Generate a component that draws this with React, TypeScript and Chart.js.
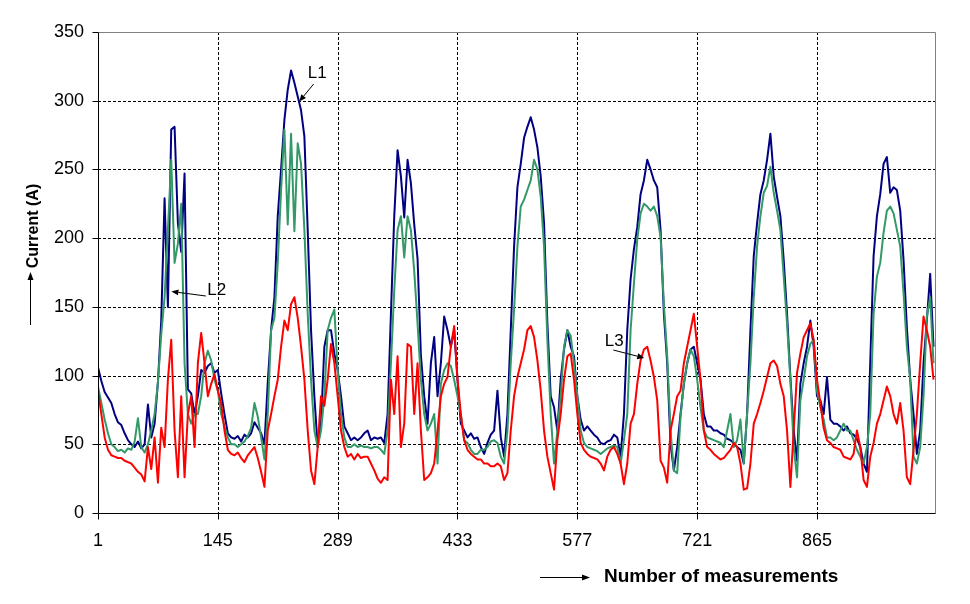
import React, { useEffect, useRef } from 'react';
import { Chart, registerables } from 'chart.js';

Chart.register(...registerables);

// Measurement numbers (every 4th measurement of the 1008-sample record)
const measurements: number[] = Array.from({ length: 252 }, (_, i) => 1 + 4 * i);

const xTickValues = [1, 145, 289, 433, 577, 721, 865];
const yTickValues = [0, 50, 100, 150, 200, 250, 300, 350];

// L1 current (A)
const seriesL1 = [
  106, 96, 88, 84, 80, 72, 66, 64, 58, 53,
  50, 48, 52, 47, 50, 79, 55, 65, 95, 140,
  229, 150, 279, 281, 211, 190, 247, 90, 87, 72,
  85, 104, 102, 107, 109, 102, 104, 87, 72, 58,
  55, 54, 56, 52, 57, 55, 58, 66, 62, 58,
  50, 95, 133, 157, 216, 250, 286, 308, 322, 313,
  303, 293, 274, 206, 133, 85, 48, 65, 121, 133,
  133, 116, 104, 85, 63, 58, 53, 55, 53, 55,
  58, 60, 53, 55, 54, 55, 51, 72, 145, 216,
  264, 245, 215, 257, 240, 210, 185, 115, 85, 65,
  109, 128, 85, 109, 143, 133, 121, 133, 97, 65,
  60, 55, 58, 54, 55, 48, 43, 51, 57, 60,
  89, 55, 41, 72, 133, 194, 237, 254, 273, 281,
  288, 279, 266, 245, 211, 138, 85, 77, 60, 97,
  119, 133, 121, 114, 85, 68, 60, 63, 60, 57,
  55, 51, 50, 52, 53, 57, 55, 41, 72, 133,
  170, 192, 208, 232, 242, 257, 250, 242, 237, 206,
  145, 109, 50, 31, 48, 72, 94, 109, 119, 121,
  109, 97, 72, 63, 63, 60, 60, 58, 57, 54,
  53, 51, 48, 46, 36, 72, 133, 187, 211, 232,
  242, 257, 276, 245, 230, 216, 184, 145, 99, 60,
  38, 94, 109, 121, 140, 121, 85, 82, 72, 99,
  68, 65, 65, 63, 60, 63, 58, 57, 54, 48,
  36, 30, 110, 187, 216, 232, 254, 259, 233, 237,
  235, 220, 184, 135, 97, 72, 43, 60, 109, 140, 174, 121,
];

// L2 current (A)
const seriesL2 = [
  92, 80, 68, 58, 50, 48, 45, 46, 44, 47,
  46, 52, 69, 48, 44, 50, 60, 72, 95, 130,
  157, 206, 257, 182, 196, 225, 109, 72, 65, 72,
  72, 85, 109, 118, 111, 97, 89, 72, 63, 55,
  50, 50, 48, 50, 52, 56, 62, 80, 70, 55,
  39, 72, 133, 142, 182, 235, 279, 210, 276, 205,
  269, 254, 206, 145, 97, 60, 48, 60, 85, 133,
  142, 148, 104, 72, 55, 48, 48, 50, 48, 49,
  48, 48, 47, 48, 48, 46, 43, 60, 109, 162,
  206, 216, 186, 216, 206, 176, 138, 97, 72, 60,
  65, 72, 36, 94, 104, 109, 107, 97, 85, 72,
  53, 51, 46, 43, 43, 46, 46, 48, 52, 53,
  51, 41, 36, 60, 109, 148, 194, 223, 228, 235,
  242, 257, 250, 230, 194, 126, 72, 36, 60, 85,
  121, 133, 129, 109, 85, 60, 51, 48, 47, 46,
  45, 43, 45, 47, 48, 49, 48, 36, 53, 72,
  133, 167, 199, 218, 225, 223, 220, 223, 216, 201,
  152, 114, 60, 31, 29, 70, 94, 109, 119, 114,
  97, 77, 60, 55, 54, 53, 52, 51, 48, 60,
  72, 48, 53, 68, 36, 72, 109, 157, 194, 216,
  233, 238, 252, 233, 220, 206, 172, 138, 97, 48,
  26, 82, 97, 114, 123, 126, 89, 77, 68, 55,
  55, 53, 55, 60, 65, 60, 60, 53, 46, 41,
  36, 48, 72, 145, 172, 182, 204, 220, 223, 218,
  206, 194, 160, 121, 97, 41, 36, 48, 85, 143, 157, 109,
];

// L3 current (A)
const seriesL3 = [
  89, 72, 55, 46, 42, 41, 40, 40, 38, 37,
  36, 33, 30, 28, 23, 48, 32, 55, 22, 62,
  48, 97, 126, 60, 26, 85, 26, 72, 85, 48,
  109, 131, 109, 85, 94, 101, 89, 80, 60, 46,
  43, 42, 44, 40, 37, 42, 45, 48, 40, 30,
  19, 60, 72, 85, 97, 121, 140, 133, 152, 157,
  142, 121, 97, 60, 31, 21, 48, 85, 78, 97,
  123, 109, 85, 60, 48, 41, 43, 39, 43, 40,
  41, 41, 36, 31, 25, 22, 26, 24, 97, 72,
  114, 48, 65, 123, 121, 72, 109, 60, 24, 26,
  29, 36, 60, 85, 94, 99, 121, 136, 97, 72,
  53, 46, 43, 41, 39, 39, 36, 36, 34, 34,
  36, 34, 24, 29, 60, 85, 99, 109, 119, 133,
  136, 128, 111, 89, 60, 41, 29, 17, 53, 72,
  97, 114, 116, 97, 72, 51, 46, 43, 41, 40,
  39, 36, 31, 41, 46, 48, 43, 36, 21, 36,
  65, 72, 94, 111, 119, 121, 111, 99, 82, 38,
  33, 22, 60, 72, 85, 89, 109, 121, 133, 145,
  121, 97, 60, 48, 46, 43, 41, 39, 40, 43,
  46, 51, 48, 36, 17, 18, 36, 65, 72, 80,
  89, 99, 109, 111, 107, 94, 85, 60, 19, 60,
  102, 116, 128, 133, 138, 126, 97, 80, 62, 53,
  51, 48, 47, 46, 41, 40, 39, 43, 60, 48,
  24, 19, 41, 51, 65, 72, 82, 92, 85, 72,
  65, 80, 60, 26, 21, 46, 72, 109, 143, 133, 121, 97,
];

const seriesNames = ['L1', 'L2', 'L3'];
const seriesColors = ['#000080', '#339966', '#FF0000'];

// Label callouts in data coordinates: [measurement, current]
const calloutLabels = ['L1', 'L2', 'L3'];
const calloutText = [[253, 316.5], [132.4, 158.6], [610, 121.2]];
const calloutFrom = [[260.2, 312.2], [130.6, 157.9], [620.2, 118.6]];
const calloutTo = [[242.8, 299.4], [89.2, 161.2], [657.4, 112.8]];

const xTitle = 'Number of measurements';
const yTitle = 'Current (A)';

const FONT = '"Liberation Sans", Arial, sans-serif';

function arrow(ctx: CanvasRenderingContext2D, x1: number, y1: number, x2: number, y2: number, head = 7, half = 3) {
  const ang = Math.atan2(y2 - y1, x2 - x1);
  const bx = x2 - head * Math.cos(ang);
  const by = y2 - head * Math.sin(ang);
  ctx.beginPath();
  ctx.moveTo(x1, y1);
  ctx.lineTo(bx, by);
  ctx.stroke();
  ctx.beginPath();
  ctx.moveTo(x2, y2);
  ctx.lineTo(bx + half * Math.sin(ang), by - half * Math.cos(ang));
  ctx.lineTo(bx - half * Math.sin(ang), by + half * Math.cos(ang));
  ctx.closePath();
  ctx.fill();
}

const framePlugin = {
  id: 'frame',
  beforeDatasetsDraw(chart: any) {
    const { ctx, chartArea: ca, scales } = chart;
    const x = scales.x;
    const y = scales.y;
    ctx.save();
    ctx.strokeStyle = '#000';
    ctx.lineWidth = 1;
    ctx.setLineDash([3, 2]);
    ctx.beginPath();
    yTickValues.forEach((v) => {
      if (v === yTickValues[0] || v === yTickValues[yTickValues.length - 1]) return;
      const py = Math.round(y.getPixelForValue(v)) + 0.5;
      ctx.moveTo(ca.left, py);
      ctx.lineTo(ca.right, py);
    });
    xTickValues.forEach((v, i) => {
      if (i === 0) return;
      const px = Math.round(x.getPixelForValue(v)) + 0.5;
      ctx.moveTo(px, ca.top);
      ctx.lineTo(px, ca.bottom);
    });
    ctx.stroke();
    ctx.restore();
  },
  afterDatasetsDraw(chart: any) {
    const { ctx, chartArea: ca, scales } = chart;
    const x = scales.x;
    const y = scales.y;
    const L = Math.round(ca.left) + 0.5;
    const R = Math.round(ca.right) - 0.5;
    const T = Math.round(ca.top) + 0.5;
    const B = Math.round(ca.bottom) + 0.5;
    ctx.save();
    ctx.lineWidth = 1;
    // gray top & right frame
    ctx.strokeStyle = '#808080';
    ctx.beginPath();
    ctx.moveTo(L, T);
    ctx.lineTo(R, T);
    ctx.lineTo(R, B);
    ctx.stroke();
    // black axes
    ctx.strokeStyle = '#000';
    ctx.beginPath();
    ctx.moveTo(L, T);
    ctx.lineTo(L, B);
    ctx.lineTo(R, B);
    ctx.stroke();
    // tick marks
    ctx.beginPath();
    yTickValues.forEach((v) => {
      const py = Math.round(y.getPixelForValue(v)) + 0.5;
      ctx.moveTo(L - 6, py);
      ctx.lineTo(L, py);
    });
    xTickValues.forEach((v) => {
      const px = Math.round(x.getPixelForValue(v)) + 0.5;
      ctx.moveTo(px, B);
      ctx.lineTo(px, B + 6);
    });
    ctx.stroke();

    // callouts
    ctx.fillStyle = '#000';
    ctx.strokeStyle = '#000';
    ctx.font = `17px ${FONT}`;
    ctx.textAlign = 'left';
    ctx.textBaseline = 'alphabetic';
    calloutLabels.forEach((lab, i) => {
      const tx = x.getPixelForValue(calloutText[i][0]);
      const ty = y.getPixelForValue(calloutText[i][1]);
      ctx.fillText(lab, tx, ty);
      arrow(
        ctx,
        x.getPixelForValue(calloutFrom[i][0]),
        y.getPixelForValue(calloutFrom[i][1]),
        x.getPixelForValue(calloutTo[i][0]),
        y.getPixelForValue(calloutTo[i][1]),
        7,
        3
      );
    });

    // axis titles with arrows
    ctx.font = `bold 19px ${FONT}`;
    ctx.fillText(xTitle, 604, 582);
    arrow(ctx, 540, 577.5, 590, 577.5, 8, 3);

    ctx.save();
    ctx.translate(37.5, 226);
    ctx.rotate(-Math.PI / 2);
    ctx.font = `bold 16px ${FONT}`;
    ctx.textAlign = 'center';
    ctx.fillText(yTitle, 0, 0);
    ctx.restore();
    arrow(ctx, 30.5, 325, 30.5, 272, 8, 3);
    ctx.restore();
  },
};

export default function App() {
  const canvasRef = useRef<HTMLCanvasElement | null>(null);

  useEffect(() => {
    document.body.style.margin = '0';
    const canvas = canvasRef.current;
    if (!canvas) return;
    const seriesValues = [seriesL1, seriesL2, seriesL3];
    const chart = new Chart(canvas, {
      type: 'line',
      data: {
        datasets: seriesValues.map((vals, k) => ({
          label: seriesNames[k],
          data: measurements.map((m, i) => ({ x: m, y: vals[i] })),
          borderColor: seriesColors[k],
          backgroundColor: seriesColors[k],
          borderWidth: 2,
          pointRadius: 0,
          tension: 0,
          fill: false,
          borderJoinStyle: 'round' as const,
          order: 2 - k,
        })),
      },
      options: {
        animation: false,
        responsive: false,
        maintainAspectRatio: false,
        events: [],
        layout: { padding: { left: 0, right: 34, top: 32, bottom: 0 } },
        plugins: {
          legend: { display: false },
          tooltip: { enabled: false },
          title: { display: false },
        },
        scales: {
          x: {
            type: 'linear',
            min: 1,
            max: 1008,
            afterBuildTicks: (s: any) => {
              s.ticks = xTickValues.map((v) => ({ value: v }));
            },
            afterFit: (s: any) => {
              s.height = 91;
            },
            grid: { display: false, drawTicks: false },
            border: { display: false },
            ticks: {
              autoSkip: false,
              maxRotation: 0,
              minRotation: 0,
              padding: 17,
              color: '#000',
              font: { family: FONT, size: 18 },
              callback: (v: any) => String(v),
            },
          },
          y: {
            type: 'linear',
            min: 0,
            max: 350,
            afterBuildTicks: (s: any) => {
              s.ticks = yTickValues.map((v) => ({ value: v }));
            },
            afterFit: (s: any) => {
              s.width = 98;
            },
            grid: { display: false, drawTicks: false },
            border: { display: false },
            ticks: {
              padding: 14,
              color: '#000',
              font: { family: FONT, size: 18 },
              callback: (v: any) => String(v),
            },
          },
        },
      },
      plugins: [framePlugin],
    });
    return () => chart.destroy();
  }, []);

  return (
    <div style={{ position: 'absolute', left: 0, top: 0, width: 970, height: 604, background: '#fff' }}>
      <canvas ref={canvasRef} width={970} height={604} style={{ display: 'block', width: 970, height: 604 }} />
    </div>
  );
}
